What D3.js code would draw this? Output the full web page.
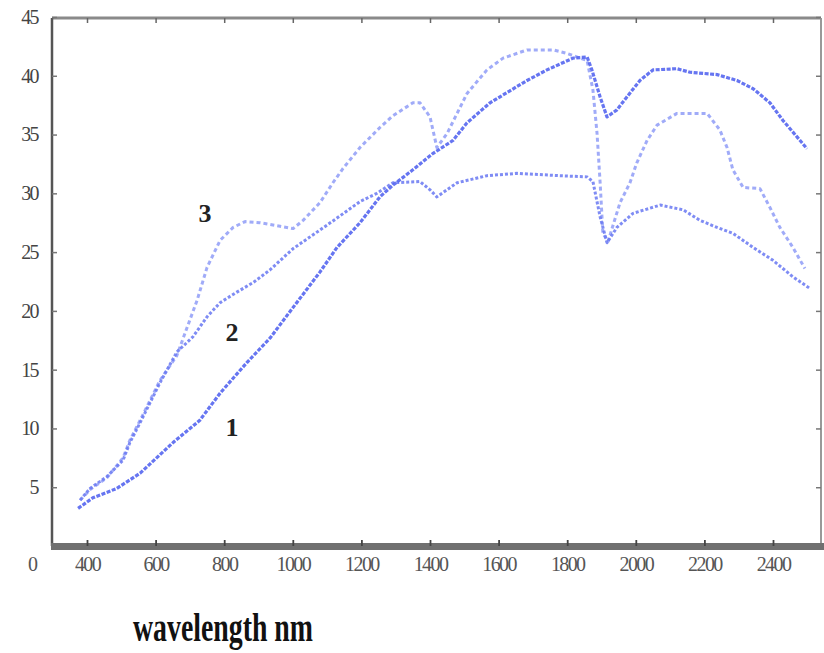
<!DOCTYPE html>
<html><head><meta charset="utf-8">
<script src="https://cdn.jsdelivr.net/npm/d3@7"></script>
<style>body{margin:0;background:#fff}svg{display:block}</style>
</head><body>
<svg id="c" width="824" height="653"></svg>
<script>
const xTicks = [400,600,800,1000,1200,1400,1600,1800,2000,2200,2400];
const yTicks = [5,10,15,20,25,30,35,40,45];

const curve1W = [374,417,487,555,651,729,788,866,934,1001,1079,1129,1196,1254,1292,1350,1409,1467,1508,1575,1683,1741,1817,1858,1872,1896,1916,1945,1974,2012,2050,2120,2158,2237,2295,2342,2391,2429,2470,2499];
const curve1V = [3.2,4.1,4.9,6.2,8.8,10.7,13.0,15.6,17.7,20.3,23.3,25.4,27.5,29.7,30.7,32.0,33.4,34.5,36.0,37.7,39.6,40.5,41.5,41.6,40.5,38.2,36.5,37.1,38.2,39.6,40.5,40.6,40.3,40.1,39.6,38.9,37.7,36.2,34.8,33.8];

const curve2W = [380,409,458,505,525,555,584,613,662,709,750,788,837,884,934,1001,1100,1196,1245,1292,1371,1400,1420,1479,1566,1654,1779,1858,1875,1896,1916,1945,1992,2071,2138,2187,2237,2283,2342,2400,2458,2508];
const curve2V = [3.9,4.9,5.9,7.3,8.8,10.5,12.2,13.9,16.5,17.8,19.5,20.7,21.6,22.4,23.5,25.3,27.3,29.3,30.0,30.9,31.0,30.3,29.7,30.9,31.5,31.7,31.5,31.4,31.0,28.0,25.8,27.1,28.3,29.0,28.6,27.7,27.1,26.6,25.4,24.3,22.9,21.9];

const curve3W = [380,409,458,505,525,555,584,613,662,692,721,750,788,826,861,904,963,1001,1030,1079,1117,1146,1196,1254,1292,1350,1371,1400,1420,1450,1479,1508,1566,1613,1683,1759,1799,1858,1875,1887,1896,1904,1919,1954,1983,2003,2033,2062,2120,2208,2245,2266,2283,2313,2362,2391,2420,2458,2493];
const curve3V = [3.9,4.8,5.8,7.5,9.0,10.7,12.4,14.1,16.2,18.6,20.9,23.7,26.0,27.1,27.6,27.5,27.2,27.0,27.7,29.2,30.9,32.1,33.9,35.6,36.6,37.7,37.7,36.5,33.9,35.1,36.8,38.5,40.5,41.5,42.2,42.2,41.9,41.3,38.8,35.1,30.9,26.6,25.9,29.2,30.9,32.6,34.5,35.8,36.8,36.8,35.4,33.9,32.0,30.5,30.4,28.8,27.1,25.4,23.6];

const curveLabels = ["1","2","3"];
const curveLabelW = [823,823,744];
const curveLabelV = [10.1,18.2,28.3];

const svg = d3.select("#c");
const x = d3.scaleLinear().domain([400,2400]).range([87,773]);
const y = d3.scaleLinear().domain([0,45]).range([546,17]);
const pLeft = 52, pRight = 821, pTop = 18, pBottom = 546;
const serif = "'Liberation Serif','DejaVu Serif',serif";

// frame
svg.append("line").attr("x1",pLeft).attr("x2",pRight).attr("y1",pTop).attr("y2",pTop)
  .attr("stroke","#8a8a8a").attr("stroke-width",3);
svg.append("line").attr("x1",pLeft).attr("x2",pLeft).attr("y1",pTop).attr("y2",pBottom)
  .attr("stroke","#555").attr("stroke-width",2.5);
svg.append("line").attr("x1",pRight).attr("x2",pRight).attr("y1",pTop).attr("y2",pBottom)
  .attr("stroke","#999").attr("stroke-width",2);
svg.append("rect").attr("x",pLeft-1).attr("y",pBottom-3).attr("width",pRight-pLeft+4).attr("height",7)
  .attr("fill","#707070");

// bottom axis
const xAxis = d3.axisBottom(x).tickValues(xTicks).tickFormat(d3.format("d")).tickSize(-6).tickPadding(11);
const gx = svg.append("g").attr("transform",`translate(0,${pBottom})`).call(xAxis);
gx.select(".domain").remove();
gx.selectAll(".tick line").attr("stroke","#444").attr("stroke-width",1.8);
gx.selectAll(".tick text").attr("font-family",serif).attr("font-size",20).attr("fill","#555")
  .attr("letter-spacing","-1.6");
// top ticks
const gxt = svg.append("g").attr("transform",`translate(0,${pTop})`)
  .call(d3.axisTop(x).tickValues(xTicks).tickSize(-5).tickFormat(""));
gxt.select(".domain").remove();
gxt.selectAll(".tick line").attr("stroke","#666").attr("stroke-width",1.5);

// left axis
const yAxis = d3.axisLeft(y).tickValues(yTicks).tickSize(-5).tickPadding(14);
const gy = svg.append("g").attr("transform",`translate(${pLeft},0)`).call(yAxis);
gy.select(".domain").remove();
gy.selectAll(".tick line").attr("stroke","#777").attr("stroke-width",1.5);
gy.selectAll(".tick text").attr("font-family",serif).attr("font-size",20).attr("fill","#444")
  .attr("letter-spacing","-1.6");
const gyr = svg.append("g").attr("transform",`translate(${pRight},0)`)
  .call(d3.axisRight(y).tickValues(yTicks).tickSize(-5).tickFormat(""));
gyr.select(".domain").remove();
gyr.selectAll(".tick line").attr("stroke","#777").attr("stroke-width",1.5);

// origin label
svg.append("text").attr("x",33).attr("y",pBottom+25).attr("text-anchor","middle")
  .attr("font-family",serif).attr("font-size",20).attr("fill","#555").text("0");

// curves
const line = d3.line().x(d=>x(d[0])).y(d=>y(d[1]));
const series = [
  {w:curve3W, v:curve3V, color:"#8896f6", width:3, dash:"4,3", op:0.8},
  {w:curve2W, v:curve2V, color:"#6878f2", width:3, dash:"3,2", op:0.85},
  {w:curve1W, v:curve1V, color:"#5566f0", width:3.2, dash:"4,1.5", op:0.9}
];
series.forEach(s=>{
  svg.append("path").datum(s.w.map((w,i)=>[w,s.v[i]]))
    .attr("d",line).attr("fill","none").attr("stroke",s.color)
    .attr("stroke-width",s.width).attr("stroke-dasharray",s.dash)
    .attr("stroke-opacity",s.op).attr("stroke-linejoin","round");
});

// curve labels
curveLabels.forEach((t,i)=>{
  svg.append("text").attr("x",x(curveLabelW[i])).attr("y",y(curveLabelV[i])+9)
    .attr("text-anchor","middle").attr("font-family",serif).attr("font-weight","bold")
    .attr("font-size",26).attr("fill","#222").text(t);
});

// axis title (tall, condensed bold serif)
svg.append("text").attr("transform","translate(133,641) scale(1,1.55)")
  .attr("font-family",serif).attr("font-weight","bold").attr("font-size",26)
  .attr("textLength",180).attr("lengthAdjust","spacingAndGlyphs")
  .attr("fill","#111").text("wavelength nm");
</script>
</body></html>
